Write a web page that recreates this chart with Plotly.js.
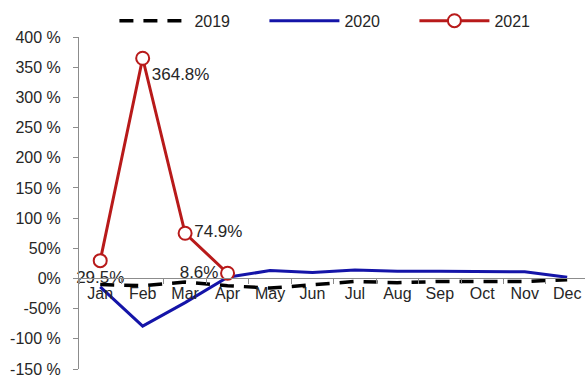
<!DOCTYPE html>
<html>
<head>
<meta charset="utf-8">
<script src="https://cdn.plot.ly/plotly-3.0.1.min.js"></script>
<style>html,body{margin:0;padding:0;background:#fff;}#chart{width:585px;height:383px;}</style>
</head>
<body>
<div id="chart"></div>
<script>
const months = ["Jan","Feb","Mar","Apr","May","Jun","Jul","Aug","Sep","Oct","Nov","Dec"];
const v2019 = [-10,-12,-6,-12,-16,-10,-5,-7,-5,-5,-5,-2];
const v2020 = [-14,-79,-40,2,13,10,14,12,12,12,11,2];
const months2021 = ["Jan","Feb","Mar","Apr"];
const v2021 = [29.5,364.8,74.9,8.6];
const labels2021 = ["29.5%","364.8%","74.9%","8.6%"];
const labelPos2021 = ["bottom center","bottom right","middle right","middle left"];
const yTicks = [-150,-100,-50,0,50,100,150,200,250,300,350,400];
const yTickText = ["-150 %","-100 %","-50%","0%","50%","100 %","150 %","200 %","250 %","300 %","350 %","400 %"];

const font = {family:"Liberation Sans, Arial, sans-serif", size:16, color:"#262626"};
const labelFont = {family:"Liberation Sans, Arial, sans-serif", size:17, color:"#262626"};

const traces = [
  {x:months, y:v2019, name:"2019", type:"scatter", mode:"lines",
   line:{color:"#000000", width:3.5, dash:"14px,10px"}},
  {x:months, y:v2020, name:"2020", type:"scatter", mode:"lines",
   line:{color:"#1414A8", width:3}},
  {x:months2021, y:v2021, name:"2021", type:"scatter", mode:"lines+markers+text",
   line:{color:"#B81A1A", width:3},
   marker:{symbol:"circle", size:13, color:"#ffffff", line:{color:"#B81A1A", width:2}},
   text:labels2021, textposition:labelPos2021, textfont:labelFont, cliponaxis:false}
];

const layout = {
  width:585, height:383,
  margin:{l:79, r:0, t:37, b:14},
  paper_bgcolor:"#ffffff", plot_bgcolor:"#ffffff",
  font:font,
  showlegend:true,
  legend:{orientation:"h", x:0.07, xanchor:"left", y:1.1, yanchor:"top",
          itemwidth:70, entrywidth:65, font:font, traceorder:"normal"},
  xaxis:{type:"category", categoryorder:"array", categoryarray:months,
         range:[-0.5, 11.42], anchor:"free", position:0.2727,
         showline:true, linecolor:"#8c8c8c", linewidth:1,
         ticks:"outside", ticklen:5, tickcolor:"#8c8c8c", tickson:"boundaries",
         showgrid:false, zeroline:false, tickfont:font, fixedrange:true},
  yaxis:{range:[-150,400], tickvals:yTicks, ticktext:yTickText,
         showline:true, linecolor:"#8c8c8c", linewidth:1,
         ticks:"outside", ticklen:5, tickcolor:"#8c8c8c",
         showgrid:false, zeroline:false, tickfont:font, ticklabelstandoff:9, fixedrange:true}
};

Plotly.newPlot("chart", traces, layout, {displayModeBar:false, staticPlot:true});
</script>
</body>
</html>
